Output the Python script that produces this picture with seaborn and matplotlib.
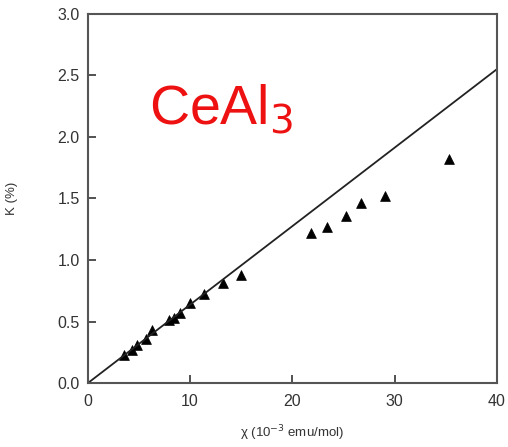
import matplotlib
matplotlib.use('Agg')
import matplotlib.pyplot as plt
import seaborn as sns
import pandas as pd

# measured points (chi in 1e-3 emu/mol, K in %)
chi = [3.5, 4.3, 4.8, 5.7, 6.3, 7.9, 8.4, 9.0, 10.0, 11.4, 13.2, 15.0,
       21.8, 23.4, 25.2, 26.7, 29.1, 35.3]
knight = [0.23, 0.27, 0.31, 0.36, 0.43, 0.51, 0.53, 0.57, 0.65, 0.72, 0.81, 0.88,
          1.22, 1.27, 1.36, 1.46, 1.52, 1.82]

# straight K-chi line
line_chi = [0, 40]
line_k = [0, 2.55]

sns.set_style('ticks')
plt.rcParams['font.family'] = ['Liberation Sans', 'DejaVu Sans']

df = pd.DataFrame({'chi': chi, 'K': knight})
df_line = pd.DataFrame({'chi': line_chi, 'K': line_k})

fig = plt.figure(figsize=(5.08, 4.47), dpi=100)
ax = fig.add_axes([0.173, 0.143, 0.805, 0.826])

sns.lineplot(data=df_line, x='chi', y='K', ax=ax, color='#222222', linewidth=1.3)
sns.scatterplot(data=df, x='chi', y='K', ax=ax, marker='^', color='black',
                s=50, edgecolor='black', linewidth=0.5)

ax.set_xlim(0, 40)
ax.set_ylim(0, 3.0)
ax.set_xticks([0, 10, 20, 30, 40])
ax.set_yticks([0.0, 0.5, 1.0, 1.5, 2.0, 2.5, 3.0])
ax.set_yticklabels(['0.0', '0.5', '1.0', '1.5', '2.0', '2.5', '3.0'])
ax.tick_params(direction='in', length=6, width=1.2, labelsize=11.5, colors='#333333',
               top=False, right=False)
ax.tick_params(axis='x', pad=8)
ax.tick_params(axis='y', pad=6)
for sp in ax.spines.values():
    sp.set_visible(True)
    sp.set_color('#555555')
    sp.set_linewidth(1.5)

ax.set_xlabel('χ (10$^{-3}$ emu/mol)', fontsize=9.5, color='#333333', labelpad=10)
ax.set_ylabel('K (%)', fontsize=9.5, color='#333333', labelpad=28)

ax.text(6.0, 2.1, r'CeAl$_3$', color='#ee1111', fontsize=40)

fig.savefig('out.png', dpi=100)
